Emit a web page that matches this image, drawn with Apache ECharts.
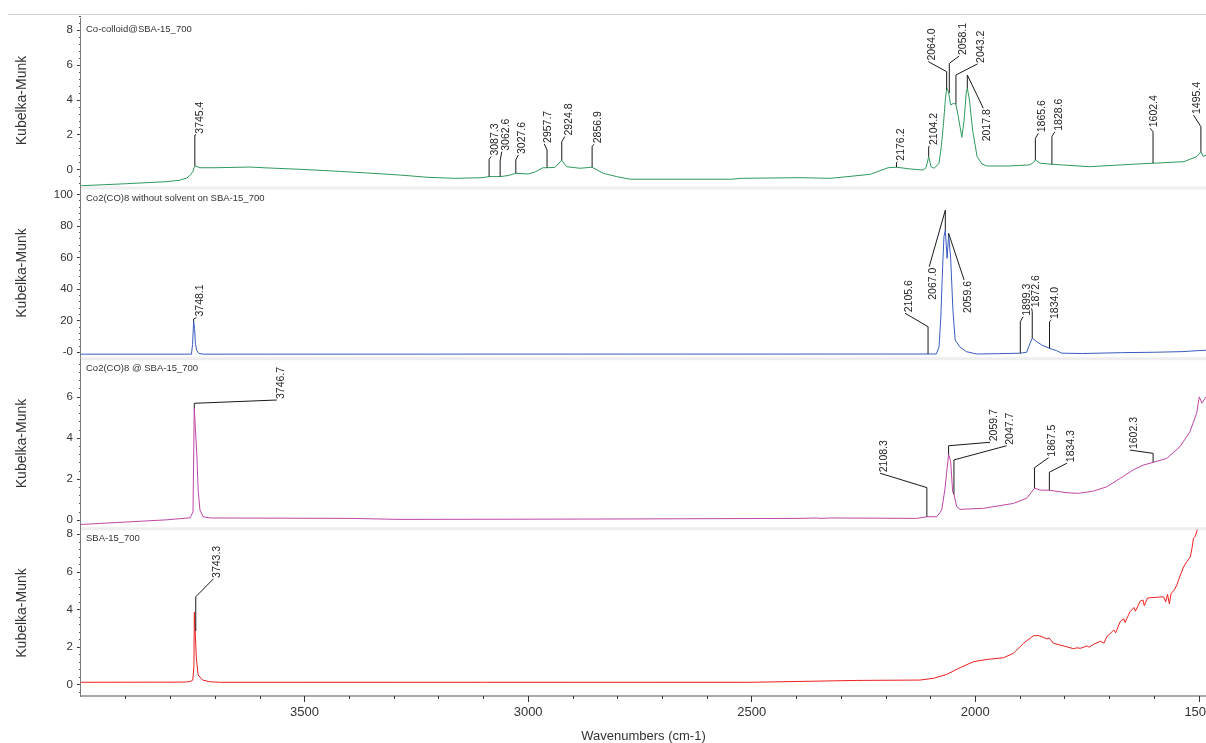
<!DOCTYPE html>
<html>
<head>
<meta charset="utf-8">
<script src="https://cdn.jsdelivr.net/npm/echarts@6/dist/echarts.min.js"></script>
<style>
html,body{margin:0;padding:0;background:#fff;}
#chart{width:1206px;height:743px;}
</style>
</head>
<body>
<div id="chart"></div>
<script>
// ---------------- DATA ----------------
const panelTitles = ['Co-colloid@SBA-15_700', 'Co2(CO)8 without solvent on SBA-15_700', 'Co2(CO)8 @ SBA-15_700', 'SBA-15_700'];
const xTickLabels = [3500, 3000, 2500, 2000, 1500];
const yTickLabels1 = [0, 2, 4, 6, 8];
const yTickLabels2 = [0, 20, 40, 60, 80, 100];
const yTickText2 = ['-0', '20', '40', '60', '80', '100'];
const yTickLabels3 = [0, 2, 4, 6];
const yTickLabels4 = [0, 2, 4, 6, 8];

// [wavenumber, Kubelka-Munk]
const green = [[4000,-0.94],[3995,-0.93],[3900,-0.82],[3808,-0.7],[3780,-0.62],[3763,-0.49],[3755,-0.3],[3750,-0.13],[3747,0.1],[3745.4,0.22],[3741,0.12],[3734,0.1],[3700,0.1],[3622,0.14],[3584,0.09],[3510,0.01],[3436,-0.09],[3360,-0.2],[3287,-0.32],[3224,-0.45],[3163,-0.51],[3101,-0.47],[3087.3,-0.41],[3062.6,-0.41],[3045,-0.35],[3027.6,-0.22],[3000,-0.26],[2985,-0.15],[2967,0.1],[2957.7,0.1],[2940,0.12],[2924.8,0.53],[2914,0.16],[2884,0.07],[2856.9,0.13],[2832,-0.22],[2802,-0.41],[2772,-0.56],[2542,-0.56],[2526,-0.51],[2392,-0.47],[2325,-0.51],[2235,-0.28],[2213,-0.07],[2195,0.1],[2176.2,0.13],[2146,0.03],[2117,-0.03],[2110,0.1],[2104.2,0.74],[2099,0.16],[2092,0.07],[2081,0.36],[2076,1.31],[2071,2.66],[2067,4.0],[2064,4.67],[2060,4.47],[2055,3.71],[2049,3.8],[2043.2,3.75],[2038,3.03],[2030,1.85],[2025,2.84],[2020,4.47],[2017.8,4.67],[2013,4.0],[2006,2.27],[1996,0.74],[1985,0.32],[1974,0.2],[1925,0.2],[1880,0.26],[1872,0.35],[1865.6,0.55],[1855,0.36],[1828.6,0.3],[1745,0.16],[1648,0.3],[1602.4,0.36],[1533,0.45],[1505,0.74],[1495.4,1.02],[1490,0.74],[1484,0.83]];

const blue = [[4000,-1.2],[3753,-1.2],[3750.5,5],[3748.1,19.5],[3746,15],[3744,5],[3741,1],[3736,-0.8],[3725,-1.2],[2105.6,-1.1],[2087,-1.1],[2081,3.5],[2077,22.5],[2073,54.2],[2070,73.2],[2067,77.4],[2063,59.5],[2059.6,74.2],[2055,59.5],[2050,26.8],[2045,7.8],[2035,3.5],[2020,0.4],[1997,-1.1],[1950,-0.9],[1899.3,-0.6],[1885,0],[1877.5,5.7],[1872.6,8.9],[1862.6,6.7],[1851.3,4.6],[1834,2.5],[1818,1.0],[1806,-0.6],[1760,-0.8],[1673,-0.25],[1600,0],[1538,0.4],[1484,1.3]];

const magenta = [[4000,-0.22],[3995,-0.21],[3884,-0.08],[3808,0.01],[3756,0.11],[3749.5,0.4],[3746.7,5.45],[3741,3.2],[3738,1.46],[3734,0.49],[3727,0.16],[3711,0.1],[3398,0.08],[3287,0.03],[2800,0.05],[2392,0.08],[2355,0.1],[2345,0.08],[2325,0.1],[2131,0.08],[2108.3,0.16],[2086,0.16],[2075,0.49],[2067.6,1.55],[2059.7,3.2],[2055,2.85],[2050.6,1.38],[2047.7,1.25],[2041.6,0.65],[2034,0.52],[1982,0.57],[1915,0.81],[1885,1.06],[1867.5,1.55],[1855,1.46],[1834.3,1.45],[1795,1.33],[1769,1.3],[1736,1.41],[1706,1.62],[1676,2.03],[1647,2.44],[1624,2.68],[1602.3,2.81],[1598,2.77],[1572,3.0],[1542,3.58],[1520,4.3],[1505,5.2],[1499,6.0],[1493,5.7],[1484,6.0]];

const red = [[4000,0.11],[3770,0.12],[3756,0.15],[3750,0.23],[3747.5,0.94],[3746.5,3.84],[3744.5,3.84],[3742,1.39],[3738,0.5],[3728,0.23],[3712,0.14],[3690,0.11],[2504,0.11],[2500,0.18],[2265,0.21],[2124,0.23],[2094,0.32],[2064,0.53],[2034,0.89],[2004,1.21],[1974,1.33],[1937,1.42],[1915,1.65],[1892,2.19],[1870,2.59],[1858,2.6],[1848,2.51],[1840,2.42],[1835,2.48],[1825,2.19],[1795,2.0],[1780,1.9],[1773,1.95],[1765,1.92],[1750,2.05],[1745,1.98],[1736,2.13],[1720,2.3],[1712,2.2],[1706,2.54],[1690,2.9],[1686,2.75],[1676,3.34],[1668,3.5],[1665,3.3],[1654,3.87],[1645,4.1],[1642,3.9],[1631,4.44],[1625,4.5],[1622,4.2],[1615,4.6],[1609,4.62],[1590,4.65],[1579,4.67],[1574,4.4],[1570,4.8],[1566,4.3],[1562,4.85],[1556,5.0],[1549,5.3],[1545,5.6],[1540,5.9],[1534,6.27],[1528,6.5],[1524,6.4],[1519,6.8],[1515,7.3],[1512,7.79],[1508,7.9],[1504,8.2],[1500,8.6],[1494,9.2],[1484,9.8]];

// peak annotations: [peak wn, curve value, leader top value, label anchor wn, label anchor value, direction(1 up / -1 down)]
const ann1 = [[3745.4,0.22,1.98,3743,2.0,1],[3087.3,-0.41,0.59,3083,0.74,1],[3062.6,-0.41,0.49,3059,1.02,1],[3027.6,-0.22,0.55,3022,0.83,1],[2957.7,0.1,1.12,2964,1.47,1],[2924.8,0.53,1.6,2918,1.89,1],[2856.9,0.13,1.31,2853,1.45,1],[2176.2,0.13,0.4,2174,0.45,1],[2104.2,0.74,1.31,2102,1.35,1],[2064.0,4.6,5.62,2105,6.2,1],[2058.1,4.4,6.1,2036,6.52,1],[2043.2,3.75,5.43,1995,6.07,1],[2017.8,4.67,5.43,1982,3.52,-1],[1865.6,0.55,1.79,1859,2.08,1],[1828.6,0.3,1.89,1822,2.17,1],[1602.4,0.36,2.17,1609,2.37,1],[1495.4,1.02,2.46,1512,3.13,1]];
const ann2 = [[3748.1,19.5,21,3742,22,1],[2105.6,-1.1,16.2,2157,24.7,1],[2067.0,77.4,90,2103,54.2,-1],[2059.6,74.2,75.3,2025,45.8,-1],[1899.3,-0.6,19.4,1893,22.5,1],[1872.6,8.9,25.7,1874,27.8,1],[1834.0,2.5,19.4,1830,20.4,1]];
const ann3 = [[3746.7,5.45,5.69,3562,5.85,1],[2108.3,0.16,1.58,2213,2.28,1],[2059.7,3.2,3.62,1967,3.79,1],[2047.7,1.25,2.93,1930,3.62,1],[1867.5,1.55,2.55,1836,3.04,1],[1834.3,1.45,2.33,1795,2.77,1],[1602.3,2.81,3.25,1654,3.41,1]];
const ann4 = [[3743.3,2.84,4.67,3704,5.62,1]];

// ---------------- LAYOUT ----------------
const FONT = '"Liberation Sans", Arial, sans-serif';
const xMin = 1484, xMax = 4000;
const gridBase = {left:81, right:0, containLabel:false, outerBoundsMode:'none'};
const grids = [
  Object.assign({top:15, height:171}, gridBase),
  Object.assign({top:189, height:168}, gridBase),
  Object.assign({top:360, height:167}, gridBase),
  Object.assign({top:530, height:166}, gridBase)
];
const yRanges = [[-0.95,8.88],[-3,103.4],[-0.34,7.8],[-0.62,8.23]];
const yMajors = [yTickLabels1, yTickLabels2, yTickLabels3, yTickLabels4];
const yMinorStep = [0.4, 4, 0.4, 0.4];
const colors = ['#2f9a5c', '#3b5cc0', '#bf46a6', '#ee1f1f'];
const curves = [green, blue, magenta, red];
const anns = [ann1, ann2, ann3, ann4];

function stepsIn(lo, hi, step){
  const out = [];
  for (let v = Math.ceil(lo/step)*step; v <= hi + 1e-9; v += step) out.push(+v.toFixed(4));
  return out;
}
const xMinorTicks = stepsIn(1500, 3900, 100);

const xAxis = [];
const yAxis = [];
for (let i = 0; i < 4; i++) {
  const last = i === 3;
  xAxis.push({
    type:'value', gridIndex:i, min:xMin, max:xMax, inverse:true, show:last, position:'bottom',
    splitLine:{show:false},
    axisLine:{show:true, onZero:false, lineStyle:{color:'#a9a9a9', width:2}},
    axisTick:{show:true, customValues:xTickLabels, length:6, lineStyle:{color:'#333'}},
    axisLabel:{show:true, customValues:xTickLabels, fontSize:13, color:'#333', fontFamily:FONT, margin:10,
      formatter:(v) => String(v), hideOverlap:false},
    name: last ? 'Wavenumbers (cm-1)' : '', nameLocation:'middle', nameGap:34,
    nameTextStyle:{fontSize:13, color:'#333', fontFamily:FONT}
  });
  const lo = yRanges[i][0], hi = yRanges[i][1];
  yAxis.push({
    type:'value', gridIndex:i, min:lo, max:hi, position:'left',
    splitLine:{show:false},
    axisLine:{show:false, onZero:false},
    axisTick:{show:true, customValues:yMajors[i], length:4, lineStyle:{color:'#333'}},
    axisLabel:{show:true, customValues:yMajors[i], fontSize:11.5, color:'#333', fontFamily:FONT, margin:8,
      formatter: (v) => { if (i === 1) { const k = yTickLabels2.indexOf(v); return k >= 0 ? yTickText2[k] : String(v); } return String(v); }},
    name:'Kubelka-Munk', nameLocation:'middle', nameGap:52,
    nameTextStyle:{fontSize:14, color:'#333', fontFamily:FONT}
  });
  yAxis.push({
    type:'value', gridIndex:i, min:lo, max:hi, position:'left',
    splitLine:{show:false},
    axisLine:{show:false, onZero:false},
    axisTick:{show:true, customValues:stepsIn(lo, hi, yMinorStep[i]), length:2, lineStyle:{color:'#555'}},
    axisLabel:{show:false}
  });
}
// minor ticks on the wavenumber axis
xAxis.push({
  type:'value', gridIndex:3, min:xMin, max:xMax, inverse:true, position:'bottom',
  splitLine:{show:false},
  axisLine:{show:false, onZero:false},
  axisTick:{show:true, customValues:xMinorTicks, length:3, lineStyle:{color:'#333'}},
  axisLabel:{show:false}
});

const series = [];
for (let i = 0; i < 4; i++) {
  series.push({
    type:'line', xAxisIndex:i, yAxisIndex:2*i, data:curves[i], showSymbol:false, symbol:'none',
    lineStyle:{color:colors[i], width:1}, itemStyle:{color:colors[i]}, z:3, clip:true
  });
  series.push({
    type:'custom', xAxisIndex:i, yAxisIndex:2*i, data:anns[i], z:5, clip:false,
    encode:{x:0, y:1},
    renderItem: function(params, api){
      const wn = api.value(0);
      const p0 = api.coord([wn, api.value(1)]);
      const p1 = api.coord([wn, api.value(2)]);
      const p2 = api.coord([api.value(3), api.value(4)]);
      const dir = api.value(5);
      return {
        type:'group',
        children:[
          {type:'polyline', shape:{points:[p0, p1, p2]}, style:{stroke:'#1a1a1a', lineWidth:1, fill:null}},
          {type:'text', x:p2[0] + 4, y:p2[1] + (dir > 0 ? -1 : 1), rotation:Math.PI/2,
           style:{text:wn.toFixed(1), font:'10.5px ' + FONT, fill:'#222',
                  align: dir > 0 ? 'left' : 'right', verticalAlign:'middle'}}
        ]
      };
    }
  });
}

const graphic = [
  {type:'line', shape:{x1:8, y1:14.5, x2:1206, y2:14.5}, style:{stroke:'#d2d2d2', lineWidth:1}, z:1},
  {type:'rect', shape:{x:81, y:186.5, width:1125, height:3}, style:{fill:'#eeeeee'}, z:1},
  {type:'rect', shape:{x:81, y:357.2, width:1125, height:3}, style:{fill:'#eeeeee'}, z:1},
  {type:'rect', shape:{x:81, y:527.2, width:1125, height:3}, style:{fill:'#eeeeee'}, z:1},
  {type:'line', shape:{x1:80.5, y1:18, x2:80.5, y2:697}, style:{stroke:'#7a7a7a', lineWidth:1}, z:10}
];
const titleTops = [29.5, 198.5, 368.5, 538.5];
panelTitles.forEach((t, i) => {
  graphic.push({type:'text', x:86, y:titleTops[i], z:10,
    style:{text:t, font:'9.5px ' + FONT, fill:'#333', verticalAlign:'middle', align:'left'}});
});

const chart = echarts.init(document.getElementById('chart'), null, {renderer:'canvas'});
chart.setOption({
  animation:false,
  backgroundColor:'#ffffff',
  grid:grids,
  xAxis:xAxis,
  yAxis:yAxis,
  series:series,
  graphic:graphic
});
</script>
</body>
</html>
